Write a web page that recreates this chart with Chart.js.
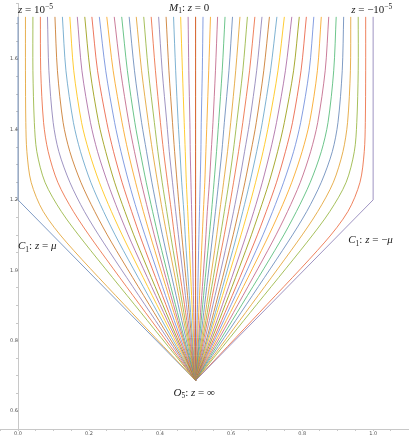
<!DOCTYPE html>
<html>
<head>
<meta charset="utf-8">
<script src="https://cdn.jsdelivr.net/npm/chart.js@4.4.1/dist/chart.umd.min.js"></script>
<style>
  html, body { margin: 0; padding: 0; background: #fff; }
  #wrap { width: 409px; height: 436px; position: relative; }
</style>
</head>
<body>
<div id="wrap"><canvas id="fan"></canvas></div>
<script>
/* Fan of curves from O5 up to the M1 line, bounded by C1 */

// heights where every inner curve is sampled
const yLevels = [0.687, 0.88, 1.08, 1.167, 1.25, 1.337, 1.42, 1.567, 1.72];

// left half, outer -> center (x at each level of yLevels)
const leftX = [
  [0.5, 0.320, 0.136, 0.071, 0.037, 0.025, 0.022, 0.021, 0.021],
  [0.5, 0.346, 0.186, 0.122, 0.076, 0.053, 0.046, 0.042, 0.042],
  [0.5, 0.359, 0.214, 0.156, 0.112, 0.085, 0.072, 0.064, 0.063],
  [0.5, 0.372, 0.240, 0.187, 0.146, 0.115, 0.099, 0.087, 0.083],
  [0.5, 0.383, 0.263, 0.216, 0.177, 0.146, 0.127, 0.111, 0.104],
  [0.5, 0.393, 0.284, 0.241, 0.205, 0.176, 0.156, 0.135, 0.125],
  [0.5, 0.402, 0.303, 0.263, 0.229, 0.200, 0.179, 0.157, 0.146],
  [0.5, 0.410, 0.319, 0.283, 0.252, 0.224, 0.204, 0.180, 0.167],
  [0.5, 0.417, 0.334, 0.301, 0.272, 0.247, 0.227, 0.203, 0.188],
  [0.5, 0.425, 0.350, 0.320, 0.293, 0.269, 0.250, 0.224, 0.208],
  [0.5, 0.432, 0.364, 0.336, 0.312, 0.290, 0.272, 0.247, 0.229],
  [0.5, 0.439, 0.378, 0.353, 0.331, 0.310, 0.293, 0.268, 0.250],
  [0.5, 0.444, 0.389, 0.367, 0.347, 0.328, 0.312, 0.289, 0.271],
  [0.5, 0.449, 0.399, 0.379, 0.361, 0.344, 0.329, 0.308, 0.292],
  [0.5, 0.456, 0.411, 0.393, 0.377, 0.362, 0.348, 0.328, 0.313],
  [0.5, 0.462, 0.423, 0.407, 0.393, 0.379, 0.367, 0.348, 0.333],
  [0.5, 0.467, 0.433, 0.419, 0.406, 0.394, 0.384, 0.367, 0.354],
  [0.5, 0.472, 0.443, 0.432, 0.421, 0.410, 0.401, 0.387, 0.375],
  [0.5, 0.477, 0.454, 0.444, 0.435, 0.426, 0.419, 0.406, 0.396],
  [0.5, 0.482, 0.463, 0.455, 0.448, 0.441, 0.435, 0.425, 0.417],
  [0.5, 0.486, 0.472, 0.467, 0.461, 0.456, 0.451, 0.444, 0.438],
  [0.5, 0.491, 0.482, 0.478, 0.474, 0.471, 0.468, 0.463, 0.458],
  [0.5, 0.495, 0.491, 0.489, 0.487, 0.485, 0.484, 0.481, 0.479],
];

// M1 (z = 0), drawn twice as in the source
const centerX = [0.5, 0.5, 0.5, 0.5, 0.5, 0.5, 0.5, 0.5, 0.5];

// right half, center -> outer
const rightX = [
  [0.5, 0.505, 0.509, 0.511, 0.513, 0.515, 0.516, 0.519, 0.521],
  [0.5, 0.509, 0.518, 0.522, 0.526, 0.529, 0.532, 0.537, 0.542],
  [0.5, 0.514, 0.528, 0.533, 0.539, 0.544, 0.549, 0.556, 0.562],
  [0.5, 0.518, 0.537, 0.545, 0.552, 0.559, 0.565, 0.575, 0.583],
  [0.5, 0.523, 0.546, 0.556, 0.565, 0.574, 0.581, 0.594, 0.604],
  [0.5, 0.528, 0.557, 0.568, 0.579, 0.590, 0.599, 0.613, 0.625],
  [0.5, 0.533, 0.567, 0.581, 0.594, 0.606, 0.616, 0.633, 0.646],
  [0.5, 0.538, 0.577, 0.593, 0.607, 0.621, 0.633, 0.652, 0.667],
  [0.5, 0.544, 0.589, 0.607, 0.623, 0.638, 0.652, 0.672, 0.687],
  [0.5, 0.551, 0.601, 0.621, 0.639, 0.656, 0.671, 0.692, 0.708],
  [0.5, 0.556, 0.611, 0.633, 0.653, 0.672, 0.688, 0.711, 0.729],
  [0.5, 0.561, 0.622, 0.647, 0.669, 0.690, 0.707, 0.732, 0.750],
  [0.5, 0.568, 0.636, 0.664, 0.688, 0.710, 0.728, 0.753, 0.771],
  [0.5, 0.575, 0.650, 0.680, 0.707, 0.731, 0.750, 0.776, 0.792],
  [0.5, 0.583, 0.666, 0.699, 0.728, 0.753, 0.773, 0.797, 0.812],
  [0.5, 0.590, 0.681, 0.717, 0.748, 0.776, 0.796, 0.820, 0.833],
  [0.5, 0.598, 0.697, 0.737, 0.771, 0.800, 0.821, 0.843, 0.854],
  [0.5, 0.607, 0.716, 0.759, 0.795, 0.824, 0.844, 0.865, 0.875],
  [0.5, 0.617, 0.737, 0.784, 0.823, 0.854, 0.873, 0.889, 0.896],
  [0.5, 0.628, 0.760, 0.813, 0.854, 0.885, 0.901, 0.913, 0.917],
  [0.5, 0.641, 0.786, 0.844, 0.888, 0.915, 0.928, 0.936, 0.937],
  [0.5, 0.654, 0.814, 0.878, 0.924, 0.947, 0.954, 0.958, 0.958],
  [0.5, 0.680, 0.864, 0.929, 0.963, 0.975, 0.978, 0.979, 0.979],
];

// C1 boundaries (z = +-mu), straight edge then vertical
const edgeY = [0.687, 1.2, 1.72];
const edgeLeftX = [0.5, 0, 0];
const edgeRightX = [0.5, 1, 1];

const xTicks = [0, 0.2, 0.4, 0.6, 0.8, 1.0];
const yTicks = [0.6, 0.8, 1.0, 1.2, 1.4, 1.6];

const palette = ['#5E81B5', '#E19C24', '#8FB032', '#EB6235', '#8778B3', '#C56E1A', '#5D9EC7',
  '#FFBF00', '#A5609D', '#929600', '#E95536', '#6685D9', '#F89F13', '#BC5B80', '#47B66D'];

const notes = [
  { x: 0.0, y: 1.74, align: 'left', runs: [['z', 'i'], [' = 10', 'n'], ['\u22125', 'sup']] },
  { x: 0.482, y: 1.747, align: 'center', runs: [['M', 'i'], ['1', 'sub'], [': ', 'n'], ['z', 'i'], [' = 0', 'n']] },
  { x: 1.054, y: 1.74, align: 'right', runs: [['z', 'i'], [' = \u221210', 'n'], ['\u22125', 'sup']] },
  { x: 0.0, y: 1.07, align: 'left', runs: [['C', 'i'], ['1', 'sub'], [': ', 'n'], ['z', 'i'], [' = ', 'n'], ['\u03bc', 'i']] },
  { x: 0.93, y: 1.087, align: 'left', runs: [['C', 'i'], ['1', 'sub'], [': ', 'n'], ['z', 'i'], [' = \u2212', 'n'], ['\u03bc', 'i']] },
  { x: 0.496, y: 0.654, align: 'center', runs: [['O', 'i'], ['5', 'sub'], [': ', 'n'], ['z', 'i'], [' = \u221e', 'n']] },
];

function pts(xs, ys) { return xs.map((x, i) => ({ x, y: ys[i] })); }

const curves = [pts(edgeLeftX, edgeY)]
  .concat(leftX.map(xs => pts(xs, yLevels)))
  .concat([pts(centerX, yLevels), pts(centerX, yLevels)])
  .concat(rightX.map(xs => pts(xs, yLevels)))
  .concat([pts(edgeRightX, edgeY)]);

const last = curves.length - 1;
const datasets = curves.map((data, i) => ({
  data,
  showLine: true,
  borderColor: palette[i % palette.length],
  borderWidth: 0.8,
  pointRadius: 0,
  fill: false,
  tension: (i === 0 || i === last) ? 0 : 0.3,
  order: last - i,
}));

const serif = '"Liberation Serif", "DejaVu Serif", serif';
function fontOf(k) {
  if (k === 'i') return 'italic 11px ' + serif;
  if (k === 'n') return '11px ' + serif;
  return '7.5px ' + serif;
}

const notePlugin = {
  id: 'notes',
  afterDatasetsDraw(chart) {
    const { ctx, scales: { x, y } } = chart;
    ctx.save();
    ctx.fillStyle = '#222';
    ctx.textBaseline = 'alphabetic';
    notes.forEach(n => {
      const px = x.getPixelForValue(n.x), py = y.getPixelForValue(n.y);
      let w = 0;
      n.runs.forEach(([t, k]) => { ctx.font = fontOf(k); w += ctx.measureText(t).width; });
      let cx = n.align === 'left' ? px : n.align === 'right' ? px - w : px - w / 2;
      n.runs.forEach(([t, k]) => {
        ctx.font = fontOf(k);
        const dy = k === 'sup' ? -4 : k === 'sub' ? 2.5 : 0;
        ctx.fillText(t, cx, py + 3.5 + dy);
        cx += ctx.measureText(t).width;
      });
    });
    ctx.restore();
  }
};

const tickFont = { size: 5, family: '"DejaVu Sans", sans-serif', lineHeight: 1 };
const onList = (list, v) => list.some(t => Math.abs(t - v) < 1e-6);

new Chart(document.getElementById('fan'), {
  type: 'scatter',
  data: { datasets },
  options: {
    responsive: true,
    maintainAspectRatio: false,
    devicePixelRatio: 1,
    animation: false,
    layout: { padding: 0 },
    plugins: { legend: { display: false }, tooltip: { enabled: false } },
    scales: {
      x: {
        type: 'linear', position: 'bottom', min: -0.0507, max: 1.101,
        border: { display: true, color: '#c8c8c8', width: 1 },
        grid: { drawOnChartArea: false, drawTicks: true, tickLength: 2, color: '#c8c8c8' },
        ticks: {
          stepSize: 0.05, autoSkip: false, maxRotation: 0, padding: 0,
          font: tickFont, color: '#555',
          callback: v => onList(xTicks, v) ? v.toFixed(1) : '',
        },
      },
      y: {
        type: 'linear', position: { x: 0 }, min: 0.549, max: 1.758,
        border: { display: true, color: '#c8c8c8', width: 1 },
        grid: { drawOnChartArea: false, drawTicks: true, tickLength: 2, color: '#c8c8c8' },
        ticks: {
          stepSize: 0.05, autoSkip: false, padding: 1,
          font: tickFont, color: '#555',
          callback: v => onList(yTicks, v) ? v.toFixed(1) : '',
        },
      },
    },
  },
  plugins: [notePlugin],
});
</script>
</body>
</html>
